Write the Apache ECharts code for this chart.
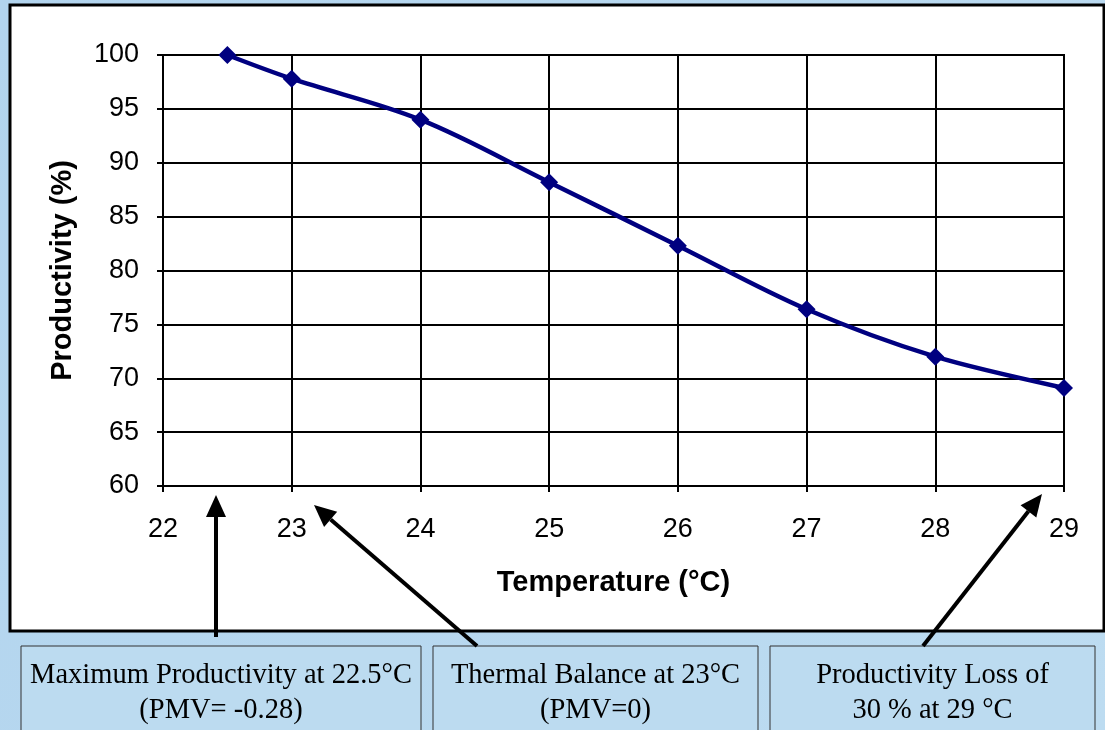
<!DOCTYPE html>
<html>
<head>
<meta charset="utf-8">
<script src="https://cdn.jsdelivr.net/npm/echarts@6/dist/echarts.min.js"></script>
<style>
html,body{margin:0;padding:0;background:#b8d8ef;}
#chart{width:1105px;height:730px;}
</style>
</head>
<body>
<div id="chart"></div>
<script>
// Data
const temperatures = [22.5, 23, 24, 25, 26, 27, 28, 29];
const productivity = [100, 97.8, 94.0, 88.2, 82.3, 76.4, 72.0, 69.1];
const xTicks = [22, 23, 24, 25, 26, 27, 28, 29];
const yTicks = [60, 65, 70, 75, 80, 85, 90, 95, 100];
const xTitle = 'Temperature (°C)';
const yTitle = 'Productivity (%)';
const notes = [
  'Maximum Productivity at 22.5°C\n(PMV= -0.28)',
  'Thermal Balance at 23°C\n(PMV=0)',
  'Productivity Loss of\n30 % at 29 °C'
];

const chart = echarts.init(document.getElementById('chart'), null, {renderer: 'canvas'});

function arrow(x1, y1, x2, y2) {
  const ang = Math.atan2(y2 - y1, x2 - x1);
  const L = 22, W = 10;
  const bx = x2 - L * Math.cos(ang), by = y2 - L * Math.sin(ang);
  const px = -Math.sin(ang) * W, py = Math.cos(ang) * W;
  return [
    {type: 'line', shape: {x1: x1, y1: y1, x2: bx, y2: by}, style: {stroke: '#000', lineWidth: 4}, z: 20},
    {type: 'polygon', shape: {points: [[x2, y2], [bx + px, by + py], [bx - px, by - py]]}, style: {fill: '#000'}, z: 20}
  ];
}

const boxes = [[21, 646, 400], [433, 646, 325], [770, 646, 325]];
const graphics = [
  {type: 'rect', shape: {x: 10, y: 5, width: 1094, height: 626}, style: {fill: '#fff', stroke: '#000', lineWidth: 3}, z: -10}
];
boxes.forEach((b, i) => {
  graphics.push({type: 'rect', shape: {x: b[0], y: b[1], width: b[2], height: 100}, style: {fill: '#bcdbf0', stroke: '#333', lineWidth: 1}, z: 5});
  graphics.push({type: 'text', x: b[0] + b[2] / 2, y: 693, style: {text: notes[i], fill: '#000', font: '28.5px "Liberation Serif", "Times New Roman", serif', align: 'center', verticalAlign: 'middle', lineHeight: 35}, z: 6});
});
graphics.push(...arrow(216, 637, 216, 495));
graphics.push(...arrow(477, 646, 314, 505));
graphics.push(...arrow(923, 646, 1042, 494));

chart.setOption({
  backgroundColor: {
    type: 'linear', x: 0, y: 0, x2: 1, y2: 1,
    colorStops: [{offset: 0, color: '#b2d4ee'}, {offset: 1, color: '#bddcf1'}]
  },
  animation: false,
  grid: {left: 163, right: 41, top: 55, bottom: 244, show: true, borderColor: '#000', borderWidth: 2, backgroundColor: '#fff'},
  xAxis: {
    type: 'value', min: 22, max: 29, interval: 1,
    name: xTitle, nameLocation: 'middle', nameGap: 82,
    nameTextStyle: {fontFamily: 'Liberation Sans, Arial', fontWeight: 'bold', fontSize: 29, color: '#000'},
    axisLine: {show: true, lineStyle: {color: '#000', width: 2}},
    axisTick: {show: true, inside: false, length: 6, lineStyle: {color: '#000', width: 2}},
    axisLabel: {fontFamily: 'Liberation Sans, Arial', fontSize: 27, color: '#000', margin: 30},
    splitLine: {show: true, lineStyle: {color: '#000', width: 2}}
  },
  yAxis: {
    type: 'value', min: 60, max: 100, interval: 5,
    name: yTitle, nameLocation: 'middle', nameGap: 86, nameRotate: 90,
    nameTextStyle: {fontFamily: 'Liberation Sans, Arial', fontWeight: 'bold', fontSize: 29, color: '#000'},
    axisLine: {show: true, lineStyle: {color: '#000', width: 2}},
    axisTick: {show: true, inside: false, length: 6, lineStyle: {color: '#000', width: 2}},
    axisLabel: {fontFamily: 'Liberation Sans, Arial', fontSize: 27, color: '#000', margin: 24,
      formatter: v => yTicks.includes(v) ? String(v) : ''},
    splitLine: {show: true, lineStyle: {color: '#000', width: 2}}
  },
  series: [{
    type: 'line',
    data: temperatures.map((t, i) => [t, productivity[i]]),
    smooth: 0.35,
    symbol: 'diamond', symbolSize: 18,
    lineStyle: {color: '#000080', width: 4.5},
    itemStyle: {color: '#000080'},
    z: 10
  }],
  graphic: graphics
});
</script>
</body>
</html>
